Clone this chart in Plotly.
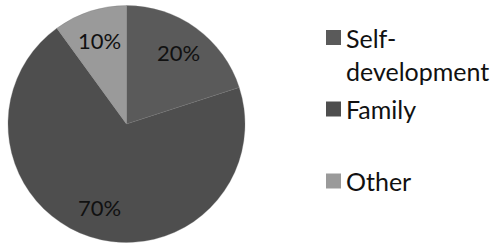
import math
import plotly.graph_objects as go

labels = ["Self-development", "Family", "Other"]
legend_text = ["Self-<br>development", "Family", "Other"]
values = [20, 70, 10]
colors = ["#5a5a5a", "#4e4e4e", "#9a9a9a"]

W, H = 491, 243
# pie box in pixels (left, right, top, bottom)
PL, PR, PT, PB = 8, 245, 5, 243

fig = go.Figure(go.Pie(
    labels=labels,
    values=values,
    sort=False,
    direction="clockwise",
    rotation=0,
    marker=dict(colors=colors, line=dict(color="#777777", width=0.3)),
    textinfo="none",
    hoverinfo="label+percent",
    showlegend=False,
    domain=dict(x=[PL / W, PR / W], y=[1 - PB / H, 1 - PT / H]),
))

# percent labels at each slice's mid angle (computed from the values)
cx, cy = (PL + PR) / 2, (PT + PB) / 2
R = min(PR - PL, PB - PT) / 2
total = sum(values)
cum = 0
for v in values:
    mid = (cum + v / 2) / total * 2 * math.pi
    cum += v
    r = 0.745 * R
    px = cx + r * math.sin(mid)
    py = cy - r * math.cos(mid)
    fig.add_annotation(xref="paper", yref="paper", x=px / W, y=1 - py / H,
                       xanchor="center", yanchor="middle", showarrow=False,
                       text=f"{round(v / total * 100)}%",
                       font=dict(size=22, color="#111111", family="Lato"))

# custom legend (irregular spacing like the reference)
legend_y = [37.5, 109, 181]  # marker centres in px from top
for lab, col, ty in zip(legend_text, colors, legend_y):
    fig.add_shape(type="rect", xref="paper", yref="paper",
                  x0=326 / W, x1=341 / W, y0=1 - (ty + 7.5) / H, y1=1 - (ty - 7.5) / H,
                  fillcolor=col, line=dict(width=0))
    fig.add_annotation(xref="paper", yref="paper", x=344 / W, y=1 - (ty - 17) / H,
                       xanchor="left", yanchor="top", align="left",
                       text=lab, showarrow=False,
                       font=dict(size=25, color="#111111", family="Lato"))

fig.update_layout(width=W, height=H, margin=dict(l=0, r=0, t=0, b=0),
                  paper_bgcolor="white", plot_bgcolor="white")
fig.write_html("out.html", config={"displayModeBar": False},
               post_script="document.body.style.margin='0';")
